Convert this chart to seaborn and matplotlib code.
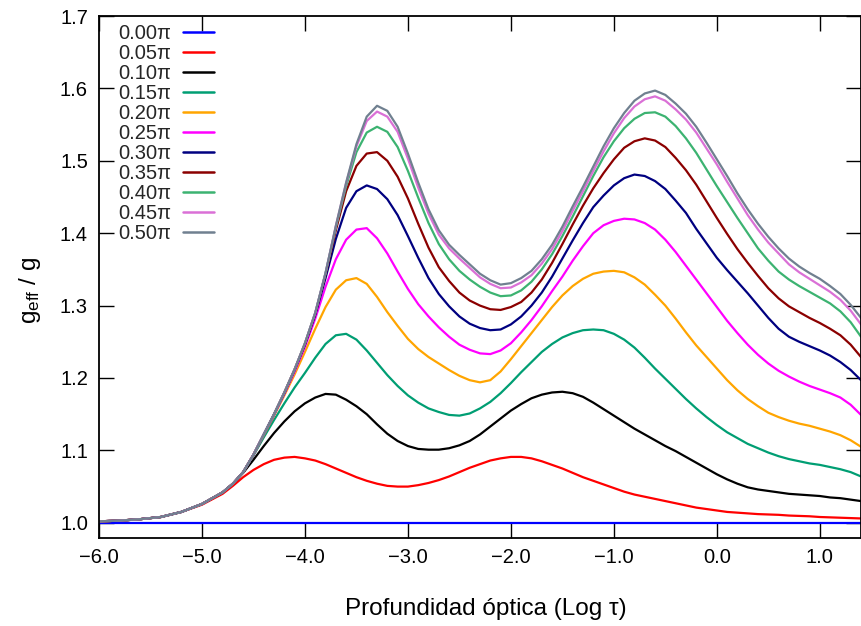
import numpy as np
import pandas as pd
import matplotlib
matplotlib.use("Agg")
import matplotlib.pyplot as plt
import seaborn as sns
from matplotlib.ticker import FixedLocator, FuncFormatter

# ---------------- data ----------------
log_tau = [-6.0, -5.8, -5.6, -5.4, -5.2, -5.0,
           -4.8, -4.7, -4.6, -4.5, -4.4,
           -4.3, -4.2, -4.1, -4.0, -3.9, -3.8, -3.7, -3.6, -3.5, -3.4,
           -3.3, -3.2, -3.1, -3.0, -2.9, -2.8, -2.7, -2.6, -2.5, -2.4,
           -2.3, -2.2, -2.1, -2.0, -1.9, -1.8, -1.7, -1.6, -1.5, -1.4,
           -1.3, -1.2, -1.1, -1.0, -0.9, -0.8, -0.7, -0.6, -0.5, -0.4,
           -0.3, -0.2, -0.1, 0.0, 0.1, 0.2, 0.3, 0.4, 0.5, 0.6,
           0.7, 0.8, 0.9, 1.0, 1.1, 1.2, 1.3, 1.4]

g_000 = [1.000] * len(log_tau)

g_005 = [1.002, 1.003, 1.005, 1.008, 1.015, 1.025,
         1.040, 1.051, 1.063, 1.073, 1.081,
         1.087, 1.090, 1.091, 1.089, 1.086, 1.081, 1.075, 1.069, 1.063, 1.058,
         1.054, 1.051, 1.050, 1.050, 1.052, 1.055, 1.059, 1.064, 1.070, 1.076,
         1.081, 1.086, 1.089, 1.091, 1.091, 1.089, 1.085, 1.080, 1.075, 1.069,
         1.063, 1.058, 1.053, 1.048, 1.043, 1.039, 1.036, 1.033, 1.030, 1.027,
         1.024, 1.021, 1.019, 1.017, 1.015, 1.014, 1.013, 1.012, 1.0115, 1.011,
         1.010, 1.0095, 1.009, 1.008, 1.0075, 1.007, 1.0065, 1.006]

g_010 = [1.002, 1.003, 1.005, 1.008, 1.015, 1.026,
         1.042, 1.054, 1.069, 1.087, 1.106,
         1.124, 1.140, 1.154, 1.165, 1.173, 1.178, 1.177, 1.170, 1.161, 1.150,
         1.136, 1.123, 1.113, 1.106, 1.102, 1.101, 1.101, 1.103, 1.107, 1.113,
         1.122, 1.133, 1.144, 1.155, 1.164, 1.172, 1.177, 1.180, 1.181, 1.179,
         1.174, 1.166, 1.157, 1.148, 1.139, 1.130, 1.122, 1.114, 1.106, 1.099,
         1.091, 1.083, 1.075, 1.067, 1.060, 1.054, 1.049, 1.046, 1.044, 1.042,
         1.040, 1.039, 1.038, 1.037, 1.035, 1.034, 1.032, 1.030]

g_015 = [1.002, 1.003, 1.005, 1.008, 1.015, 1.026,
         1.042, 1.054, 1.070, 1.093, 1.118,
         1.142, 1.165, 1.187, 1.207, 1.228, 1.247, 1.259, 1.261, 1.253, 1.238,
         1.221, 1.204, 1.189, 1.176, 1.166, 1.158, 1.153, 1.149, 1.148, 1.151,
         1.158, 1.167, 1.179, 1.193, 1.208, 1.222, 1.236, 1.247, 1.256, 1.262,
         1.266, 1.267, 1.266, 1.261, 1.253, 1.242, 1.228, 1.213, 1.199, 1.185,
         1.171, 1.158, 1.146, 1.135, 1.125, 1.117, 1.109, 1.103, 1.097, 1.092,
         1.088, 1.085, 1.082, 1.080, 1.077, 1.074, 1.070, 1.064]

g_020 = [1.002, 1.003, 1.005, 1.008, 1.015, 1.026,
         1.042, 1.054, 1.070, 1.094, 1.121,
         1.148, 1.176, 1.205, 1.236, 1.268, 1.298, 1.322, 1.335, 1.338, 1.330,
         1.312, 1.291, 1.272, 1.254, 1.240, 1.229, 1.220, 1.211, 1.203, 1.197,
         1.194, 1.197, 1.209, 1.226, 1.244, 1.262, 1.280, 1.298, 1.314, 1.327,
         1.337, 1.344, 1.347, 1.348, 1.346, 1.339, 1.329, 1.315, 1.300, 1.282,
         1.263, 1.245, 1.229, 1.213, 1.197, 1.183, 1.171, 1.161, 1.152, 1.146,
         1.141, 1.137, 1.134, 1.130, 1.126, 1.121, 1.114, 1.105]

g_025 = [1.002, 1.003, 1.005, 1.008, 1.015, 1.026,
         1.042, 1.054, 1.070, 1.094, 1.122,
         1.149, 1.178, 1.209, 1.243, 1.282, 1.326, 1.364, 1.391, 1.405, 1.407,
         1.393, 1.372, 1.347, 1.323, 1.302, 1.285, 1.270, 1.257, 1.246, 1.239,
         1.234, 1.233, 1.238, 1.248, 1.263, 1.280, 1.299, 1.320, 1.340, 1.362,
         1.382, 1.400, 1.411, 1.417, 1.420, 1.419, 1.414, 1.405, 1.391, 1.374,
         1.355, 1.336, 1.317, 1.298, 1.279, 1.262, 1.246, 1.232, 1.220, 1.210,
         1.202, 1.195, 1.189, 1.184, 1.179, 1.173, 1.163, 1.149]

g_030 = [1.002, 1.003, 1.005, 1.008, 1.015, 1.026,
         1.042, 1.054, 1.070, 1.094, 1.122,
         1.150, 1.179, 1.211, 1.246, 1.287, 1.338, 1.392, 1.435, 1.458, 1.466,
         1.461, 1.447, 1.425, 1.396, 1.366, 1.338, 1.316, 1.299, 1.285, 1.275,
         1.269, 1.266, 1.267, 1.274, 1.285, 1.300, 1.318, 1.340, 1.365, 1.390,
         1.414, 1.436, 1.452, 1.466, 1.476, 1.481, 1.479, 1.472, 1.461, 1.445,
         1.428, 1.406, 1.386, 1.366, 1.349, 1.333, 1.317, 1.300, 1.283, 1.268,
         1.257, 1.250, 1.244, 1.238, 1.231, 1.222, 1.211, 1.197]

g_035 = [1.002, 1.003, 1.005, 1.008, 1.015, 1.026,
         1.042, 1.054, 1.070, 1.094, 1.122,
         1.150, 1.180, 1.212, 1.247, 1.289, 1.343, 1.404, 1.458, 1.493, 1.510,
         1.512, 1.500, 1.478, 1.448, 1.413, 1.380, 1.353, 1.334, 1.318, 1.307,
         1.300, 1.295, 1.294, 1.298, 1.305, 1.318, 1.336, 1.359, 1.385, 1.412,
         1.438, 1.462, 1.483, 1.502, 1.518, 1.527, 1.531, 1.528, 1.519, 1.504,
         1.487, 1.467, 1.444, 1.421, 1.399, 1.378, 1.359, 1.341, 1.324, 1.310,
         1.299, 1.291, 1.283, 1.276, 1.268, 1.259, 1.246, 1.229]

g_040 = [1.002, 1.003, 1.005, 1.008, 1.015, 1.026,
         1.042, 1.054, 1.070, 1.094, 1.122,
         1.150, 1.180, 1.212, 1.248, 1.290, 1.345, 1.408, 1.465, 1.512, 1.539,
         1.547, 1.540, 1.519, 1.486, 1.449, 1.414, 1.385, 1.364, 1.348, 1.336,
         1.326, 1.318, 1.313, 1.314, 1.321, 1.333, 1.350, 1.371, 1.396, 1.423,
         1.451, 1.479, 1.505, 1.527, 1.545, 1.558, 1.566, 1.567, 1.561, 1.548,
         1.531, 1.511, 1.488, 1.465, 1.443, 1.421, 1.400, 1.379, 1.362, 1.347,
         1.336, 1.327, 1.319, 1.311, 1.303, 1.292, 1.277, 1.257]

g_045 = [1.002, 1.003, 1.005, 1.008, 1.015, 1.026,
         1.042, 1.054, 1.070, 1.094, 1.122,
         1.150, 1.180, 1.212, 1.248, 1.290, 1.345, 1.410, 1.469, 1.520, 1.555,
         1.568, 1.561, 1.540, 1.503, 1.463, 1.427, 1.398, 1.379, 1.365, 1.352,
         1.339, 1.330, 1.324, 1.325, 1.332, 1.342, 1.358, 1.378, 1.403, 1.431,
         1.458, 1.486, 1.513, 1.538, 1.559, 1.575, 1.585, 1.589, 1.583, 1.571,
         1.557, 1.539, 1.517, 1.495, 1.471, 1.448, 1.425, 1.405, 1.387, 1.372,
         1.357, 1.346, 1.337, 1.328, 1.319, 1.308, 1.293, 1.274]

g_050 = [1.002, 1.003, 1.005, 1.008, 1.015, 1.026,
         1.042, 1.054, 1.070, 1.094, 1.122,
         1.150, 1.180, 1.212, 1.248, 1.290, 1.345, 1.410, 1.470, 1.523, 1.561,
         1.576, 1.569, 1.547, 1.510, 1.470, 1.433, 1.404, 1.384, 1.370, 1.357,
         1.344, 1.335, 1.329, 1.331, 1.338, 1.348, 1.364, 1.384, 1.409, 1.437,
         1.464, 1.492, 1.520, 1.545, 1.566, 1.583, 1.593, 1.597, 1.591, 1.579,
         1.565, 1.547, 1.525, 1.502, 1.479, 1.455, 1.433, 1.413, 1.395, 1.379,
         1.365, 1.354, 1.345, 1.337, 1.327, 1.316, 1.301, 1.283]

series_labels = ["0.00π", "0.05π", "0.10π", "0.15π", "0.20π", "0.25π",
                 "0.30π", "0.35π", "0.40π", "0.45π", "0.50π"]
series_values = [g_000, g_005, g_010, g_015, g_020, g_025,
                 g_030, g_035, g_040, g_045, g_050]
series_colors = ["#0000ff", "#ff0000", "#000000", "#009e73", "#ffa500",
                 "#ff00ff", "#000080", "#8b0000", "#3cb371", "#da70d6",
                 "#708090"]

x_ticks = [-6.0, -5.0, -4.0, -3.0, -2.0, -1.0, 0.0, 1.0]
y_ticks = [1.0, 1.1, 1.2, 1.3, 1.4, 1.5, 1.6, 1.7]

# ---------------- table ----------------
frames = []
for lab, vals in zip(series_labels, series_values):
    frames.append(pd.DataFrame({"log_tau": log_tau, "g": vals, "fase": lab}))
df = pd.concat(frames, ignore_index=True)

# ---------------- style ----------------
sns.set_theme(style="ticks")
plt.rcParams["font.family"] = ["Liberation Sans", "DejaVu Sans"]
plt.rcParams["mathtext.fontset"] = "custom"
plt.rcParams["mathtext.rm"] = "Liberation Sans"
plt.rcParams["mathtext.it"] = "Liberation Sans"

fig = plt.figure(figsize=(8.61, 6.26), dpi=100)
ax = fig.add_axes([99 / 861, 88 / 626, 762 / 861, 522 / 626])

sns.lineplot(data=df, x="log_tau", y="g", hue="fase", hue_order=series_labels,
             palette=dict(zip(series_labels, series_colors)),
             estimator=None, sort=False, linewidth=1.6, ax=ax, legend=True)

ax.set_xlim(-6.0, 1.4)
ax.set_ylim(0.979, 1.7)
ax.xaxis.set_major_locator(FixedLocator(x_ticks))
ax.yaxis.set_major_locator(FixedLocator(y_ticks))
fmt = FuncFormatter(lambda v, p: f"{v:.1f}".replace("-", "\u2212"))
ax.xaxis.set_major_formatter(fmt)
ax.yaxis.set_major_formatter(fmt)

ax.tick_params(axis="both", which="major", direction="in", length=11,
               width=1.0, color="black", labelsize=14.5, top=True, right=True,
               labelcolor="black")
ax.tick_params(axis="x", pad=7)
ax.tick_params(axis="y", pad=8)
for sp in ax.spines.values():
    sp.set_visible(True)
    sp.set_linewidth(1.3)
    sp.set_color("black")

ax.set_xlabel("Profundidad óptica (Log τ)", fontsize=17.5, color="black",
              va="top")
ax.xaxis.set_label_coords(0.508, -0.114)
ax.set_ylabel("g$_\\mathregular{eff}$ / g", fontsize=17.5, color="black")
ax.yaxis.set_label_coords(-0.074, 0.475)

handles, labels = ax.get_legend_handles_labels()
leg = ax.legend(handles, labels, loc="upper left",
                bbox_to_anchor=(0.025, 0.984), frameon=False,
                markerfirst=False, handlelength=1.55, handletextpad=0.6,
                labelspacing=0.05, fontsize=14.5, borderpad=0,
                borderaxespad=0)
for line in leg.get_lines():
    line.set_linewidth(1.8)

fig.savefig("out.png", dpi=100)
